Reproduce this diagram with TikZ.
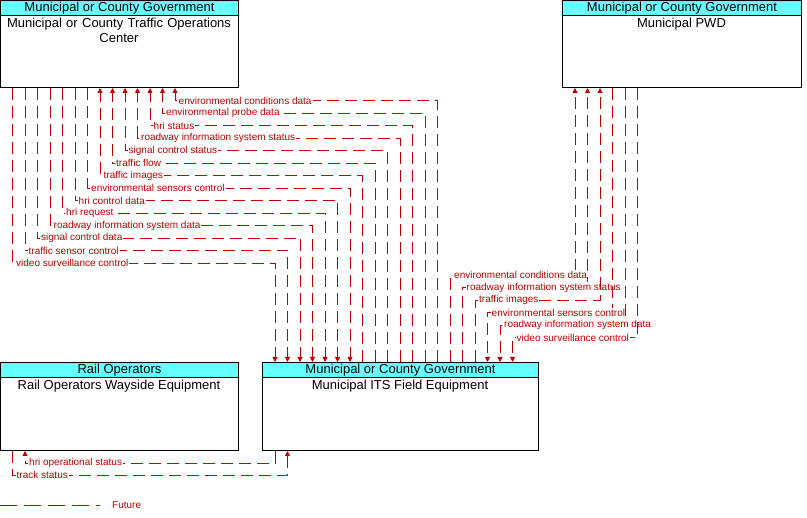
\documentclass[tikz,border=0pt]{standalone}
\usepackage{fontspec}
\setmainfont{Liberation Sans}
\usetikzlibrary{arrows.meta,calc}
\definecolor{flowred}{RGB}{192,0,0}
\definecolor{hdrcyan}{RGB}{102,255,255}
\begin{document}
\begin{tikzpicture}[x=1pt,y=-1pt,
  box/.style={draw=black,line width=1pt,fill=white,anchor=north west,inner sep=0pt},
  hdr/.style={draw=black,line width=1pt,fill=hdrcyan,anchor=north west,inner sep=0pt,minimum height=15pt,font=\fontsize{13}{15}\selectfont},
  ttl/.style={anchor=north,align=center,inner sep=0pt,font=\fontsize{13}{15}\selectfont},
  flow/.style={draw=flowred,line width=0.9pt,dash pattern=on 12pt off 6pt},
  arr/.style={-{Triangle[width=5pt,length=5pt]}},
  lbl/.style={anchor=west,fill=white,text=flowred,inner sep=1pt,font=\fontsize{10}{11}\selectfont}]
\useasboundingbox (0,0) rectangle (807,518);

% boxes
\node[box,minimum width=238pt,minimum height=87pt] (toc) at (0,0) {};
\node[hdr,minimum width=238pt] (toch) at (0,0) {Municipal or County Government};
\node[ttl,text width=236pt] (toct) at (119,18) {Municipal or County Traffic Operations\\Center};

\node[box,minimum width=239pt,minimum height=87pt] (pwd) at (562,0) {};
\node[hdr,minimum width=239pt] (pwdh) at (562,0) {Municipal or County Government};
\node[ttl] (pwdt) at (681.5,18) {Municipal PWD};

\node[box,minimum width=238pt,minimum height=88pt] (rail) at (0,362) {};
\node[hdr,minimum width=238pt] (railh) at (0,362) {Rail Operators};
\node[ttl] (railt) at (119,380) {Rail Operators Wayside Equipment};

\node[box,minimum width=276pt,minimum height=88pt] (its) at (262,362) {};
\node[hdr,minimum width=276pt] (itsh) at (262,362) {Municipal or County Government};
\node[ttl] (itst) at (400,380) {Municipal ITS Field Equipment};

% TOC -> ITS
\foreach \k/\t in {1/video surveillance control,2/traffic sensor control,3/signal control data,4/roadway information system data,5/hri request,6/hri control data,7/environmental sensors control}{
  \pgfmathsetmacro\xa{12.5*\k}
  \pgfmathsetmacro\xb{0.5+12.5*\k}
  \pgfmathsetmacro\yy{275.5-12.5*\k}
  \coordinate (a) at ($(toc.south west)+(\xa,0)$);
  \coordinate (b) at ($(its.north west)+(\xb,0)$);
  \draw[flow,arr] (a) -- (a |- 0,\yy) -| (b);
  \node[lbl] at (\xa+2.5,\yy) {\t};
}
% ITS -> TOC
\foreach \k/\t in {8/traffic images,9/traffic flow,10/signal control status,11/roadway information system status,12/hri status,13/environmental probe data,14/environmental conditions data}{
  \pgfmathsetmacro\xa{12.5*\k}
  \pgfmathsetmacro\xb{0.5+12.5*\k}
  \pgfmathsetmacro\yy{275.5-12.5*\k}
  \coordinate (a) at ($(toc.south west)+(\xa,0)$);
  \coordinate (b) at ($(its.north west)+(\xb,0)$);
  \draw[flow,arr] (b) -- (b |- 0,\yy) -| (a);
  \node[lbl] at (\xa+2.5,\yy) {\t};
}
% ITS -> PWD
\foreach \j/\t in {1/environmental conditions data,2/roadway information system status,3/traffic images}{
  \pgfmathsetmacro\xa{0.5+12.5*\j}
  \pgfmathsetmacro\xb{175.5+12.5*\j}
  \pgfmathsetmacro\yy{262.5+12.5*\j}
  \coordinate (a) at ($(pwd.south west)+(\xa,0)$);
  \coordinate (b) at ($(its.north west)+(\xb,0)$);
  \draw[flow,arr] (b) -- (b |- 0,\yy) -| (a);
  \node[lbl] at (262+\xb+3,\yy) {\t};
}
% PWD -> ITS
\foreach \j/\t in {4/environmental sensors control,5/roadway information system data,6/video surveillance control}{
  \pgfmathsetmacro\xa{0.5+12.5*\j}
  \pgfmathsetmacro\xb{175.5+12.5*\j}
  \pgfmathsetmacro\yy{262.5+12.5*\j}
  \coordinate (a) at ($(pwd.south west)+(\xa,0)$);
  \coordinate (b) at ($(its.north west)+(\xb,0)$);
  \draw[flow,arr] (a) -- (a |- 0,\yy) -| (b);
  \node[lbl] at (262+\xb+3,\yy) {\t};
}
% Rail <-> ITS
\coordinate (r1) at ($(its.south west)+(13,0)$);
\coordinate (r2) at ($(rail.south west)+(25,0)$);
\draw[flow,arr] (r1) -- (r1 |- 0,463) -| (r2);
\node[lbl] at (28,463) {hri operational status};
\coordinate (r3) at ($(rail.south west)+(12.5,0)$);
\coordinate (r4) at ($(its.south west)+(25.5,0)$);
\draw[flow,arr] (r3) -- (r3 |- 0,475) -| (r4);
\node[lbl] at (15.5,475) {track status};

% legend
\coordinate (l1) at (0,505);
\coordinate (l2) at (100,505);
\draw[flow,dash pattern=on 17pt off 7pt] (l1) -- (l2);
\node[lbl,fill=none] (fut) at (111,505) {Future};
\end{tikzpicture}
\end{document}
